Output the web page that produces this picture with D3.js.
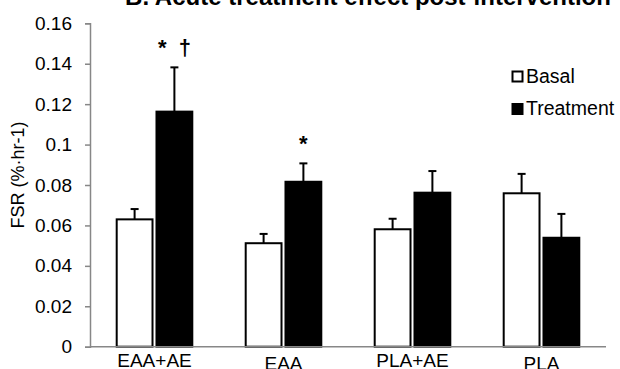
<!DOCTYPE html>
<html>
<head>
<meta charset="utf-8">
<script src="https://cdn.jsdelivr.net/npm/d3@7"></script>
<style>
  html, body { margin: 0; padding: 0; background: #fff; }
  svg { display: block; font-family: Arial, "Liberation Sans", sans-serif; }
</style>
</head>
<body>
<svg id="chart" width="620" height="369"></svg>
<script>
// ---- data ----
const categories = ["EAA+AE", "EAA", "PLA+AE", "PLA"];
const seriesNames = ["Basal", "Treatment"];
const basalValues = [0.063, 0.0512, 0.0581, 0.0759];
const basalErrors = [0.0051, 0.0046, 0.0052, 0.0096];
const treatmentValues = [0.1163, 0.0816, 0.0762, 0.0539];
const treatmentErrors = [0.0219, 0.0091, 0.0107, 0.0118];
const annotations = ["*  \u2020", "*", "", ""];
const yTickValues = [0, 0.02, 0.04, 0.06, 0.08, 0.1, 0.12, 0.14, 0.16];
const yTickLabels = ["0", "0.02", "0.04", "0.06", "0.08", "0.1", "0.12", "0.14", "0.16"];
const titleText = "B. Acute treatment effect post-intervention";
const yAxisTitle = "FSR (%\u00B7hr-1)";

// ---- build table ----
const series = [
  { name: seriesNames[0], values: basalValues, errors: basalErrors, fill: "#ffffff" },
  { name: seriesNames[1], values: treatmentValues, errors: treatmentErrors, fill: "#000000" }
];
const table = [];
categories.forEach((c, i) => {
  series.forEach(s => table.push({ cat: c, series: s.name, value: s.values[i], err: s.errors[i], fill: s.fill }));
});

const svg = d3.select("#chart");
const plotLeft = 90, plotRight = 606, plotTop = 23.3, plotBottom = 346.7;
const axisColor = "#878787";

const y = d3.scaleLinear().domain([0, 0.16]).range([plotBottom, plotTop]);
const x0 = d3.scaleBand().domain(categories).range([plotLeft, plotRight]).paddingInner(0.414).paddingOuter(0.207);
const x1 = d3.scaleBand().domain(seriesNames).range([0, x0.bandwidth()]).paddingInner(0.1).paddingOuter(0);

// title (partially cut off at top, as in reference)
svg.append("text")
  .attr("x", 368).attr("y", 5)
  .attr("text-anchor", "middle")
  .attr("font-size", 24).attr("font-weight", "bold")
  .attr("fill", "#000")
  .text(titleText);

// y axis
const yAxis = d3.axisLeft(y).tickValues(yTickValues)
  .tickFormat((d, i) => yTickLabels[i]).tickSizeOuter(0).tickSize(5).tickPadding(13);
const gy = svg.append("g").attr("transform", `translate(${plotLeft},0)`).call(yAxis);
gy.select(".domain").attr("stroke", axisColor).attr("stroke-width", 1.5);
gy.selectAll(".tick line").attr("stroke", axisColor).attr("stroke-width", 1.5);
gy.selectAll(".tick text").attr("font-size", 19).attr("fill", "#000")
  .attr("font-family", "Arial, 'Liberation Sans', sans-serif");

// y axis title
svg.append("text")
  .attr("transform", `translate(24,175) rotate(-90)`)
  .attr("text-anchor", "middle")
  .attr("font-size", 18).attr("fill", "#000")
  .text(yAxisTitle);

// bars
const bars = svg.append("g");
bars.selectAll("rect").data(table).join("rect")
  .attr("x", d => x0(d.cat) + x1(d.series))
  .attr("y", d => y(d.value))
  .attr("width", x1.bandwidth())
  .attr("height", d => y(0) - y(d.value))
  .attr("fill", d => d.fill)
  .attr("stroke", "#000")
  .attr("stroke-width", 2);

// error bars
const eb = svg.append("g").attr("stroke", "#000").attr("stroke-width", 2);
table.forEach(d => {
  const cx = x0(d.cat) + x1(d.series) + x1.bandwidth() / 2;
  eb.append("line").attr("x1", cx).attr("x2", cx).attr("y1", y(d.value)).attr("y2", y(d.value + d.err));
  eb.append("line").attr("x1", cx - 4).attr("x2", cx + 4).attr("y1", y(d.value + d.err)).attr("y2", y(d.value + d.err));
});

// x axis line
svg.append("line")
  .attr("x1", plotLeft).attr("x2", plotRight)
  .attr("y1", y(0)).attr("y2", y(0))
  .attr("stroke", axisColor).attr("stroke-width", 1.5);

// x labels (alternating vertical offset as in reference)
svg.append("g").selectAll("text").data(categories).join("text")
  .attr("x", d => x0(d) + x0.bandwidth() / 2)
  .attr("y", (d, i) => i % 2 === 0 ? 366.5 : 369.5)
  .attr("text-anchor", "middle")
  .attr("font-size", 19).attr("fill", "#000")
  .text(d => d);

// significance annotations above treatment bars
svg.append("g").selectAll("text").data(categories).join("text")
  .attr("x", d => x0(d) + x1("Treatment") + x1.bandwidth() / 2)
  .attr("y", (d, i) => y(treatmentValues[i] + treatmentErrors[i]) - 12)
  .attr("text-anchor", "middle")
  .attr("font-size", 22).attr("font-weight", "bold")
  .style("white-space", "pre")
  .attr("fill", "#000")
  .text((d, i) => annotations[i]);

// legend
const legend = svg.append("g");
series.forEach((s, i) => {
  const ly = 82.5 + i * 32.5;
  legend.append("rect")
    .attr("x", 512.5).attr("y", ly - 11)
    .attr("width", 10).attr("height", 10)
    .attr("fill", s.fill).attr("stroke", "#000").attr("stroke-width", 2);
  legend.append("text")
    .attr("x", 526).attr("y", ly)
    .attr("font-size", 19.5).attr("fill", "#000")
    .text(s.name);
});
</script>
</body>
</html>
